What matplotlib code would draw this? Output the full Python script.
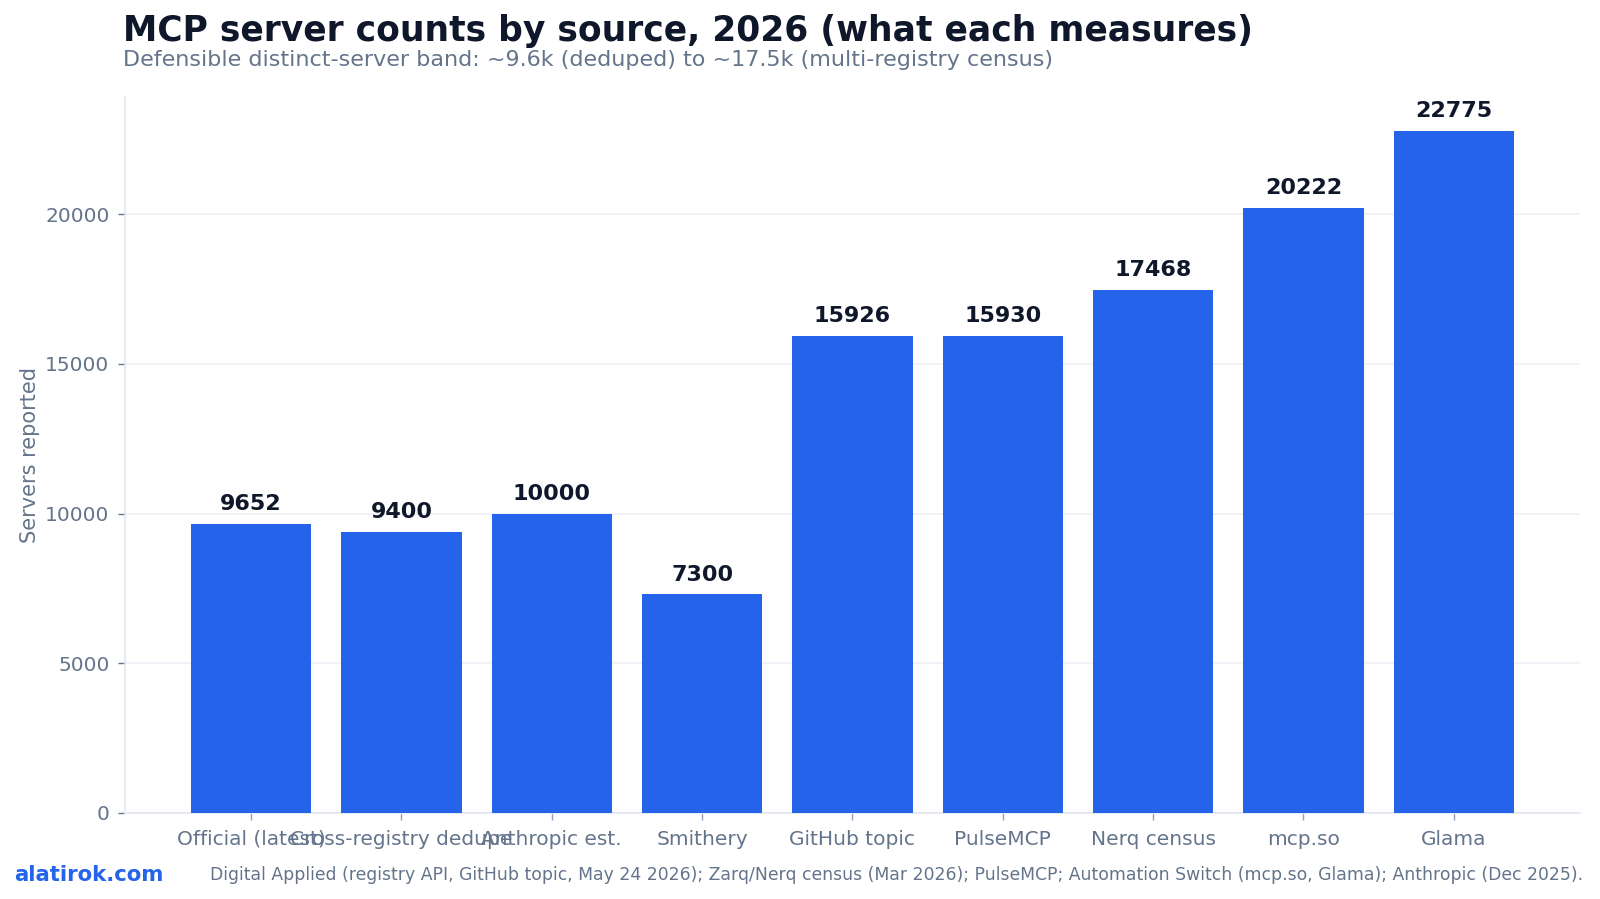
import matplotlib
matplotlib.use("Agg")
import matplotlib.pyplot as plt

categories = ["Official (latest)", "Cross-registry dedupe", "Anthropic est.", "Smithery",
              "GitHub topic", "PulseMCP", "Nerq census", "mcp.so", "Glama"]
values = [9652, 9400, 10000, 7300, 15926, 15930, 17468, 20222, 22775]
yticks = [0, 5000, 10000, 15000, 20000]

title = "MCP server counts by source, 2026 (what each measures)"
subtitle = "Defensible distinct-server band: ~9.6k (deduped) to ~17.5k (multi-registry census)"
ylabel = "Servers reported"
brand = "alatirok.com"
source = ("Digital Applied (registry API, GitHub topic, May 24 2026); Zarq/Nerq census (Mar 2026); "
          "PulseMCP; Automation Switch (mcp.so, Glama); Anthropic (Dec 2025).")

BLUE = "#2563eb"
DARK = "#0f172a"
SLATE = "#64748b"
LIGHT = "#e2e8f0"

plt.rcParams['font.family'] = ['DejaVu Sans']
fig = plt.figure(figsize=(16, 8.99), dpi=100)
ax = fig.add_axes([0.078, 0.0957, 0.9095, 0.7963])
ax.set_facecolor("#fefefe")

x = list(range(len(categories)))
bars = ax.bar(x, values, width=0.8, color=BLUE, linewidth=0, zorder=3)
for xi, v in zip(x, values):
    ax.annotate(f"{v}", (xi, v), xytext=(0, 7), textcoords="offset points",
                ha="center", va="bottom", fontsize=16, fontweight="bold", color=DARK, zorder=4)

ax.set_xticks(x)
ax.set_xticklabels(categories)
ax.set_yticks(yticks)
ax.set_ylim(0, max(values) * 1.05)
ax.set_xlim(-0.84, len(categories) - 1 + 0.84)
ax.tick_params(axis="both", labelsize=14.5, length=5, width=1, pad=6)
ax.tick_params(axis="x", colors="#94a3b8", labelcolor=SLATE, pad=7)
ax.tick_params(axis="y", colors=SLATE)
ax.set_ylabel(ylabel, fontsize=15, color=SLATE, labelpad=4)
ax.grid(axis="y", color="#edf1f6", linewidth=1.2, zorder=0)
ax.set_axisbelow(True)
for s in ["top", "right"]:
    ax.spines[s].set_visible(False)
for s in ["left", "bottom"]:
    ax.spines[s].set_color(LIGHT)
    ax.spines[s].set_linewidth(1.2)

fig.text(0.077, 0.965, title, fontsize=24.85, fontweight="bold", color=DARK, ha="left", va="center")
fig.text(0.077, 0.933, subtitle, fontsize=16, color=SLATE, ha="left", va="center")
fig.text(0.009, 0.027, brand, fontsize=15.3, fontweight="bold", color=BLUE, ha="left", va="center")
fig.text(0.131, 0.027, source, fontsize=12.45, color=SLATE, ha="left", va="center")

fig.savefig("out.png", dpi=100)
